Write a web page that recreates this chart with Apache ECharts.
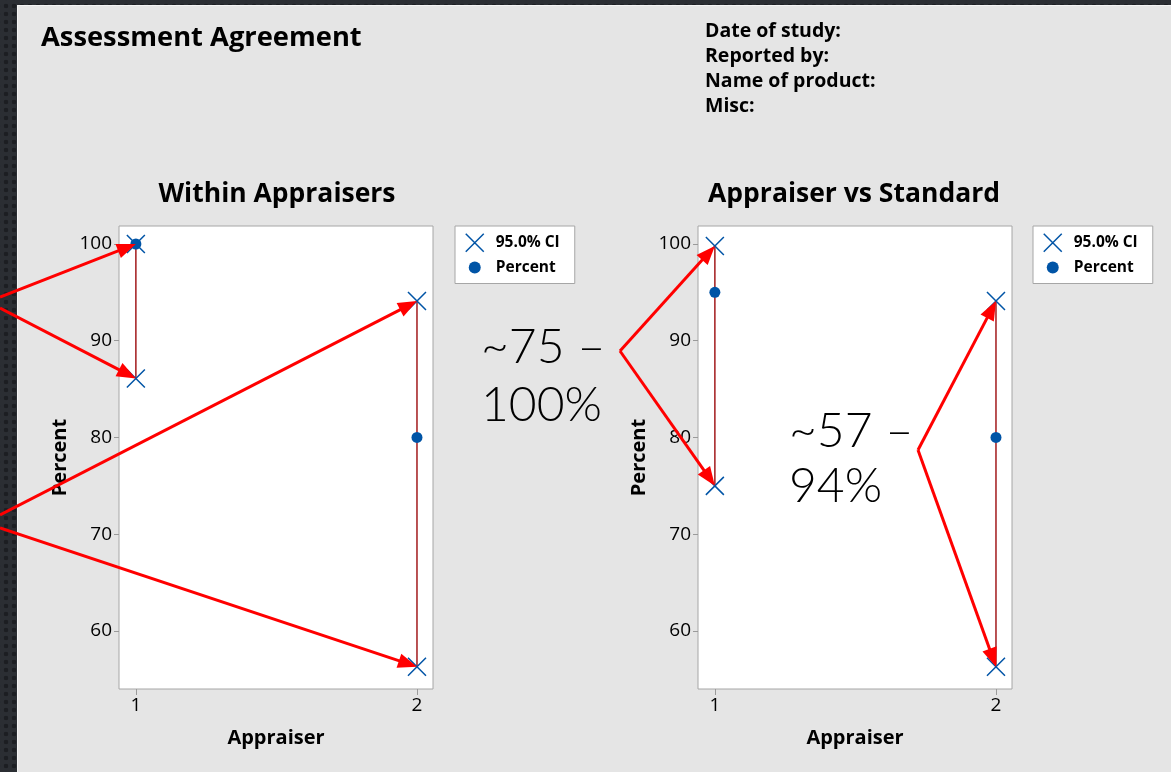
<!DOCTYPE html>
<html>
<head>
<meta charset="utf-8">
<script src="https://cdn.jsdelivr.net/npm/echarts@6/dist/echarts.min.js"></script>
<style>
html,body{margin:0;padding:0;width:1171px;height:772px;overflow:hidden;}
body{background-color:#2b2e33;background-image:radial-gradient(circle,#1c1e22 2px,transparent 2.6px);background-size:8px 8px;background-position:2px 2px;position:relative;}
#panel{position:absolute;left:17px;top:5px;right:-2px;bottom:-2px;background:#e5e5e5;border-top:1px solid #f4f4f4;border-left:1px solid #f4f4f4;}
#chart{position:absolute;left:0;top:0;width:1171px;height:772px;}
</style>
</head>
<body>
<div id="panel"></div>
<div id="chart"></div>
<script>
// ---- data ----
const appraisers = [1, 2];
const tickValues = [60, 70, 80, 90, 100];
const withinPct = [100, 80];
const withinLo = [86.1, 56.3];
const withinHi = [100, 94.1];
const vsStdPct = [95, 80];
const vsStdLo = [75.0, 56.3];
const vsStdHi = [99.8, 94.1];
const ciName = '95.0% CI';
const pctName = 'Percent';
const mainTitle = 'Assessment Agreement';
const leftTitle = 'Within Appraisers';
const rightTitle = 'Appraiser vs Standard';
const infoLines = ['Date of study:', 'Reported by:', 'Name of product:', 'Misc:'];
const noteLeft = ['~75 \u2013', '100%'];
const noteRight = ['~57 \u2013', '94%'];

const FONT = '"Open Sans", "Noto Sans", sans-serif';
const BLUE = '#0054a6';
const CI_LINE = '#a8282a';
const X_PATH = 'path://M0,0L10,10M10,0L0,10';
// small dot centred in an 18x18 box (the leading moves only set the box)
const DOT_ICON = 'path://M0,0M18,18M3,9A6,6,0,1,0,15,9A6,6,0,1,0,3,9Z';

const chart = echarts.init(document.getElementById('chart'), null, {renderer: 'canvas'});

function xAxisFor(i) {
  return {
    type: 'value', gridIndex: i, min: 0.94, max: 2.057,
    name: 'Appraiser', nameLocation: 'middle', nameGap: 39,
    nameTextStyle: {fontFamily: FONT, fontSize: 20, fontWeight: 'bold', color: '#000'},
    axisLine: {show: false},
    axisTick: {show: true, length: 6, lineStyle: {color: '#9a9a9a'}, customValues: appraisers},
    axisLabel: {fontFamily: FONT, fontSize: 19, color: '#000', margin: 7, customValues: appraisers},
    splitLine: {show: false}
  };
}
function yAxisFor(i) {
  return {
    type: 'value', gridIndex: i, min: 54, max: 101.86,
    name: 'Percent', nameLocation: 'middle', nameGap: 49,
    nameTextStyle: {fontFamily: FONT, fontSize: 20, fontWeight: 'bold', color: '#000'},
    axisLine: {show: false},
    axisTick: {show: true, length: 5, lineStyle: {color: '#9a9a9a'}, customValues: tickValues},
    axisLabel: {fontFamily: FONT, fontSize: 19, color: '#000', margin: 7, customValues: tickValues},
    splitLine: {show: false}
  };
}
function ciSegments(lo, hi) {
  return appraisers.map((a, k) => [a, lo[k], hi[k]]);
}
function seriesFor(i, pct, lo, hi) {
  const ends = [];
  appraisers.forEach((a, k) => { ends.push([a, lo[k]]); ends.push([a, hi[k]]); });
  return [
    {
      type: 'custom', xAxisIndex: i, yAxisIndex: i, silent: true, z: 2,
      data: ciSegments(lo, hi),
      renderItem: function (params, api) {
        const p1 = api.coord([api.value(0), api.value(1)]);
        const p2 = api.coord([api.value(0), api.value(2)]);
        return {type: 'line', shape: {x1: p1[0], y1: p1[1], x2: p2[0], y2: p2[1]},
                style: {stroke: CI_LINE, lineWidth: 1.6}};
      }
    },
    {
      name: ciName, type: 'scatter', xAxisIndex: i, yAxisIndex: i, z: 3,
      symbol: X_PATH, symbolSize: 18,
      itemStyle: {color: 'rgba(0,0,0,0)', borderColor: BLUE, borderWidth: 1.5, opacity: 1},
      data: ends
    },
    {
      name: pctName, type: 'scatter', xAxisIndex: i, yAxisIndex: i, z: 4,
      symbol: 'circle', symbolSize: 11,
      itemStyle: {color: BLUE, opacity: 1},
      data: appraisers.map((a, k) => [a, pct[k]])
    }
  ];
}
function legendFor(left) {
  return {
    orient: 'vertical', left: left, top: 226, padding: [7, 15, 7, 10],
    backgroundColor: '#fff', borderColor: '#a6a6a6', borderWidth: 1,
    itemGap: 6, itemWidth: 18, itemHeight: 18, selectedMode: false,
    textStyle: {fontFamily: FONT, fontSize: 15.5, fontWeight: 'bold', color: '#000', padding: [0, 0, 0, 7]},
    data: [
      {name: ciName, icon: X_PATH, itemStyle: {color: 'rgba(0,0,0,0)', borderColor: BLUE, borderWidth: 1.5}},
      {name: pctName, icon: DOT_ICON, itemStyle: {color: BLUE, borderWidth: 0}}
    ]
  };
}

const option = {
  animation: false,
  backgroundColor: 'transparent',
  title: [
    {text: mainTitle, left: 36, top: 20, textStyle: {fontFamily: FONT, fontSize: 27.3, fontWeight: 'bold', color: '#000'}},
    {text: infoLines.join('\n'), left: 700, top: 14, textStyle: {fontFamily: FONT, fontSize: 19.5, fontWeight: 'bold', color: '#000', lineHeight: 25}},
    {text: leftTitle, left: 272, top: 176, textAlign: 'center', textStyle: {fontFamily: FONT, fontSize: 26.5, fontWeight: 'bold', color: '#000'}},
    {text: rightTitle, left: 849, top: 176, textAlign: 'center', textStyle: {fontFamily: FONT, fontSize: 26.5, fontWeight: 'bold', color: '#000'}}
  ],
  legend: [legendFor(455), legendFor(1033)],
  grid: [
    {left: 119, top: 226, width: 314, height: 463, show: true, backgroundColor: '#fff', borderColor: '#a6a6a6', borderWidth: 1, containLabel: false},
    {left: 698, top: 226, width: 314, height: 463, show: true, backgroundColor: '#fff', borderColor: '#a6a6a6', borderWidth: 1, containLabel: false}
  ],
  xAxis: [xAxisFor(0), xAxisFor(1)],
  yAxis: [yAxisFor(0), yAxisFor(1)],
  series: [].concat(seriesFor(0, withinPct, withinLo, withinHi), seriesFor(1, vsStdPct, vsStdLo, vsStdHi))
};
chart.setOption(option);

// ---- annotation arrows (tips anchored to data through the axes) ----
function px(g, v) { return chart.convertToPixel({gridIndex: g}, v); }
function arrow(from, to) {
  const dx = to[0] - from[0], dy = to[1] - from[1];
  const len = Math.sqrt(dx * dx + dy * dy);
  const ux = dx / len, uy = dy / len;
  const headL = 19, headW = 7.5;
  const bx = to[0] - ux * headL, by = to[1] - uy * headL;
  return [
    {type: 'line', shape: {x1: from[0], y1: from[1], x2: bx + ux * 2, y2: by + uy * 2},
     style: {stroke: '#ff0000', lineWidth: 3}, z: 100},
    {type: 'polygon', shape: {points: [[to[0], to[1]], [bx - uy * headW, by + ux * headW], [bx + uy * headW, by - ux * headW]]},
     style: {fill: '#ff0000'}, z: 100}
  ];
}
const els = [];
els.push.apply(els, arrow([0, 297], px(0, [appraisers[0], withinHi[0]])));
els.push.apply(els, arrow([0, 308], px(0, [appraisers[0], withinLo[0]])));
els.push.apply(els, arrow([0, 515], px(0, [appraisers[1], withinHi[1]])));
els.push.apply(els, arrow([0, 528], px(0, [appraisers[1], withinLo[1]])));
els.push.apply(els, arrow([620, 351], px(1, [appraisers[0], vsStdHi[0]])));
els.push.apply(els, arrow([620, 351], px(1, [appraisers[0], vsStdLo[0]])));
els.push.apply(els, arrow([918, 450], px(1, [appraisers[1], vsStdHi[1]])));
els.push.apply(els, arrow([918, 450], px(1, [appraisers[1], vsStdLo[1]])));

const NOTE_FONT = 'Lato, "Open Sans", sans-serif';
els.push({type: 'text', left: 481, top: 319, z: 101,
  style: {text: noteLeft.join('\n'), fontFamily: NOTE_FONT, fontWeight: 300, fontSize: 48, lineHeight: 58, fill: '#000', textAlign: 'left'}});
els.push({type: 'text', left: 789, top: 404, z: 101,
  style: {text: noteRight.join('\n'), fontFamily: NOTE_FONT, fontWeight: 300, fontSize: 48, lineHeight: 55, fill: '#000', textAlign: 'left'}});

chart.setOption({graphic: {elements: els}});
</script>
</body>
</html>
